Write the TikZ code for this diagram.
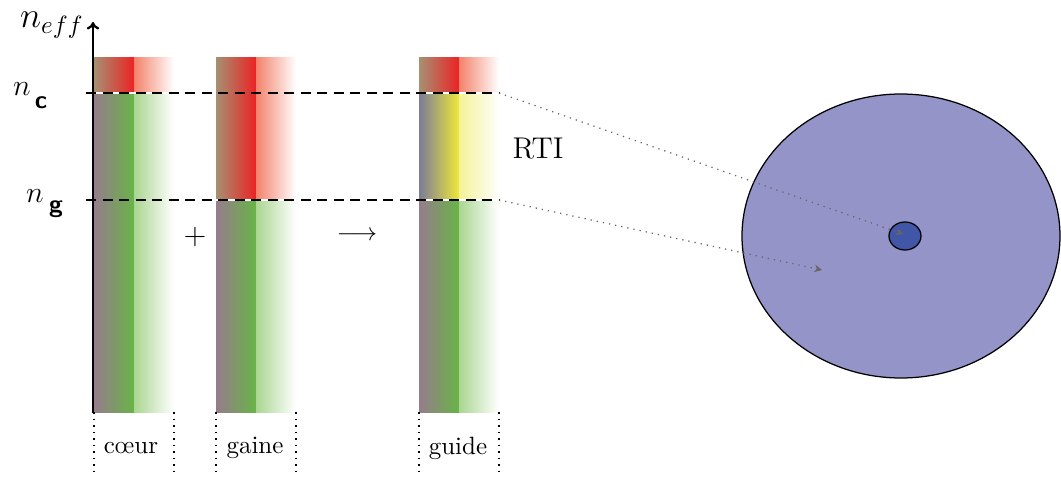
\documentclass[tikz,border=0pt]{standalone}
\usepackage{fontspec}
\usetikzlibrary{arrows.meta,shapes.geometric}
\definecolor{cred}{RGB}{236,34,36}
\definecolor{cgreen}{RGB}{104,180,70}
\definecolor{cyellow}{RGB}{238,232,58}
\definecolor{lred}{RGB}{243,130,106}
\definecolor{lgreen}{RGB}{170,214,145}
\definecolor{lyellow}{RGB}{245,242,150}
\definecolor{gred}{RGB}{166,144,114}
\definecolor{ggreen}{RGB}{150,124,140}
\definecolor{gyellow}{RGB}{124,124,150}
\definecolor{clad}{RGB}{148,148,200}
\definecolor{core}{RGB}{66,86,168}
% one coloured band of a column: left half from grey to the colour, right half fading to white
\newcommand\bandseg[6]{%
  \shade[left color=#5, right color=#4] (#1,#2) rectangle ({#1+40},#3);
  \shade[left color=#6, right color=white] ({#1+40},#2) rectangle ({#1+80},#3);
}
\tikzset{
  level/.style={black, dash pattern=on 4pt off 2.6pt, line width=0.5pt},
  sep/.style={white, line width=0.6pt},
  frame/.style={black, dotted, line width=0.6pt},
  proj/.style={gray!80!black, dotted, line width=0.5pt, -{Stealth[length=3pt,width=3pt]}},
  lab/.style={font=\normalsize, inner sep=0pt}
}
\begin{document}
\begin{tikzpicture}[x=0.4pt, y=-0.4pt]
\useasboundingbox (0,0) rectangle (1061,479);
% columns
\bandseg{94}{58}{93}{cred}{gred}{lred}
\bandseg{94}{93}{412}{cgreen}{ggreen}{lgreen}
\bandseg{216}{58}{200}{cred}{gred}{lred}
\bandseg{216}{200}{412}{cgreen}{ggreen}{lgreen}
\bandseg{419}{58}{93}{cred}{gred}{lred}
\bandseg{419}{93}{200}{cyellow}{gyellow}{lyellow}
\bandseg{419}{200}{412}{cgreen}{ggreen}{lgreen}
% named corners
\coordinate (c1) at (94,412);  \coordinate (c2) at (174,412);
\coordinate (g1) at (216,412); \coordinate (g2) at (296,412);
\coordinate (u1) at (419,412); \coordinate (u2) at (499,412);
\coordinate (c1b) at (94,477);  \coordinate (c2b) at (174,477);
\coordinate (g1b) at (216,477); \coordinate (g2b) at (296,477);
\coordinate (u1b) at (419,477); \coordinate (u2b) at (499,477);
% level lines
\coordinate (ncL) at (86,93);  \coordinate (ncR) at (499,93);
\coordinate (ngL) at (86,200); \coordinate (ngR) at (499,200);
\draw[sep] (94,93) -- (174,93);
\draw[sep] (216,200) -- (296,200);
\draw[sep] (419,93) -- (499,93);
\draw[sep] (419,200) -- (499,200);
\draw[level] (ncL) -- (ncR);
\draw[level] (ngL) -- (ngR);
% axis
\coordinate (ax0) at (93,413);
\coordinate (ax1) at (93,22);
\draw[line width=0.9pt, -{To[length=3pt,width=5pt]}] (ax0) -- (ax1);
\node[lab, anchor=base, font=\fontsize{13.6}{16}\selectfont] (neff) at (52,28) {$n_{eff}$};
\node[lab, font=\fontsize{13}{15}\selectfont] (nc) at (22,89) {$n$};
\node[lab] (ncsub) at (41,103) {\textsf{\textbf{c}}};
\node[lab, font=\fontsize{13}{15}\selectfont] (ng) at (35,196) {$n$};
\node[lab] (ngsub) at (56,209) {\textsf{\textbf{g}}};
% column frames and names
\draw[frame] (c1) -- (c1b); \draw[frame] (c2) -- (c2b);
\draw[frame] (g1) -- (g1b); \draw[frame] (g2) -- (g2b);
\draw[frame] (u1) -- (u1b); \draw[frame] (u2) -- (u2b);
\node[lab] (coeur) at (131,448) {c\oe ur};
\node[lab] (gaine) at (255,448) {gaine};
\node[lab] (guide) at (458,448) {guide};
\node[lab, font=\large] (plus) at (195,237) {$+$};
\node[lab] (arr) at (357,236) {$\longrightarrow$};
\node[lab, font=\large] (rti) at (538,149) {RTI};
% fibre cross-section
\node[draw=black, fill=clad, ellipse, minimum width=318*0.4pt, minimum height=284*0.4pt, inner sep=0pt, line width=0.5pt] (gaineS) at (901,236) {};
\node[draw=black, fill=core, ellipse, minimum width=32*0.4pt, minimum height=28*0.4pt, inner sep=0pt, line width=0.5pt] (coeurS) at (905,236) {};
\coordinate (pc) at (903,234);
\coordinate (pg) at (822,270);
\draw[proj] (ncR) -- (pc);
\draw[proj] (ngR) -- (pg);
\end{tikzpicture}
\end{document}
